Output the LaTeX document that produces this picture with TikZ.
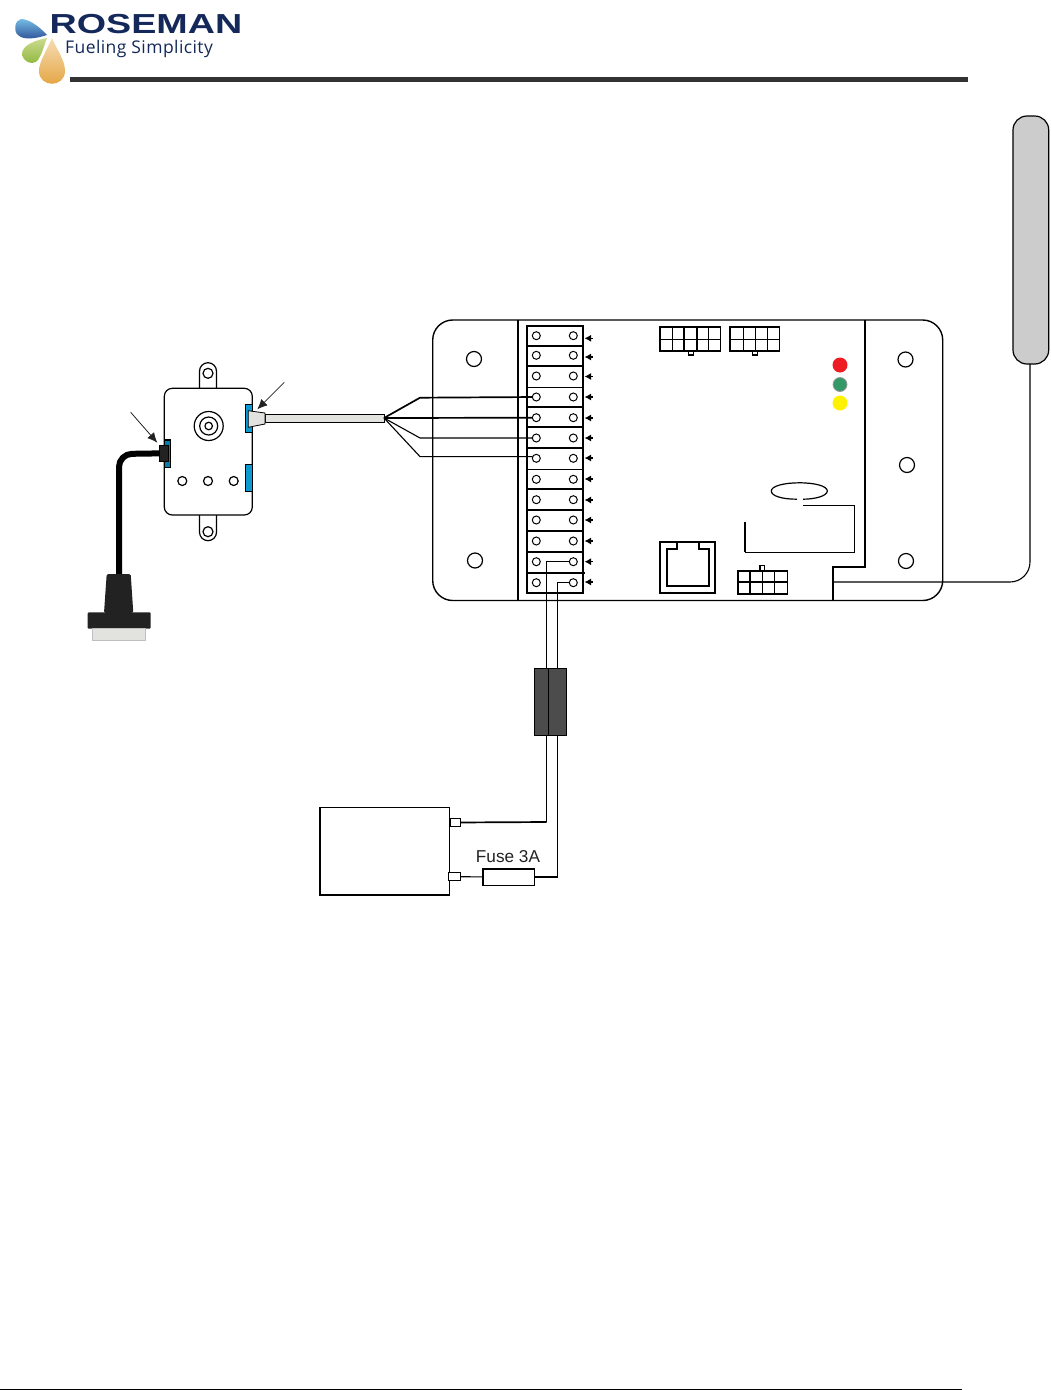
\documentclass[tikz,border=0pt]{standalone}
\usepackage{xcolor}
\usepackage{fontspec}
\usepackage{tikz}
\usetikzlibrary{arrows.meta}
\setmainfont{Liberation Sans}
\newfontfamily\sloganfont[LetterSpace=2.4]{Open Sans}

\definecolor{navy}{HTML}{14285A}
\definecolor{tabblue}{HTML}{0C9AD0}
\definecolor{tabdark}{HTML}{0A7CA6}
\definecolor{cablegray}{HTML}{E2E3DE}
\definecolor{bootblack}{HTML}{222222}
\definecolor{ledred}{HTML}{ED1C24}
\definecolor{ledgreen}{HTML}{339966}
\definecolor{ledyellow}{HTML}{FFF200}
\definecolor{dropbluetop}{HTML}{74BCE4}
\definecolor{dropbluebot}{HTML}{2A4A92}
\definecolor{dropgreentop}{HTML}{CBDB8E}
\definecolor{dropgreenbot}{HTML}{8DB53A}
\definecolor{droporangetop}{HTML}{F6DDB5}
\definecolor{droporangebot}{HTML}{E3A23C}

\tikzset{
    hole/.style={draw, circle, inner sep=0pt, outer sep=0pt, line width=1.2pt, minimum size=#1},
    hole/.default=15pt,
    pin/.style={draw, circle, inner sep=0pt, outer sep=0pt, line width=1pt, minimum size=8pt},
    led/.style={circle, inner sep=0pt, minimum size=15pt, fill=#1},
    callout/.style={-{Latex[length=10pt,width=9pt]}, line width=0.8pt, color=bootblack},
    pointer/.style={-{Latex[length=6.5pt,width=7pt]}, line width=1.2pt},
    lead/.style={draw, rectangle, fill=white, inner sep=0pt, outer sep=0pt, line width=1.2pt}
}

\begin{document}
\begin{tikzpicture}[x=1pt, y=-1pt]
        \useasboundingbox (0,0) rectangle (1050,1390);

        % Logo
        \shade[top color=dropbluetop, bottom color=dropbluebot]
            (47,35) .. controls (38,25) and (28,19) .. (21,19)
            .. controls (15,20) and (13,31) .. (18,35)
            .. controls (24,41) and (38,38) .. (47,35);
        \shade[top color=dropgreentop, bottom color=dropgreenbot]
            (47,38) .. controls (36,40) and (22,45) .. (22,54)
            .. controls (23,62) and (33,66) .. (38,60)
            .. controls (42,54) and (44,46) .. (47,38);
        \shade[top color=droporangetop, bottom color=droporangebot]
            (52,38) .. controls (46,52) and (39,62) .. (39,71)
            .. controls (39,88) and (65,88) .. (65,71)
            .. controls (65,60) and (57,50) .. (52,38);
        \node[anchor=base west, inner sep=0pt, color=navy] (brand) at (49.5,33)
            {\fontsize{27.5}{30}\selectfont\bfseries\scalebox{1.37}[1]{ROSEMAN}};
        \node[anchor=base west, inner sep=0pt, color=navy] (slogan) at (65,53)
            {\fontsize{17.5}{20}\selectfont\sloganfont Fueling Simplicity};
        \fill[color=black!80] (70,77) rectangle (968,82);
        \draw[line width=1pt] (0,1389) -- (962,1389);

        % Antenna
        \draw[line width=1.2pt, fill=black!20, rounded corners=14pt] (1013,116) rectangle (1048.7,364);

        % Board
        \draw[line width=1.4pt, rounded corners=20pt] (432.7,320) rectangle (942.7,600.5);
        \draw[line width=1.8pt] (517.7,320) -- (517.7,600.5);
        \draw[line width=1.8pt] (865,320) -- (865,566.7) -- (832.7,566.7) -- (832.7,600.5);
        \node[hole] (h1) at (474,359) {};
        \node[hole] (h2) at (475,560.5) {};
        \node[hole] (h3) at (905.5,359.5) {};
        \node[hole] (h4) at (907,465) {};
        \node[hole] (h5) at (906,561) {};

        % Terminal block
        \draw[line width=1.8pt] (527,326) rectangle (583,593);
        \foreach \y/\w in {345.7/1.8, 366/1.8, 387/0.8, 407/1.8, 427/1.8, 447.7/1.8, 469/0.8, 489.3/1.8, 510/1.8, 530.7/1.8, 551.7/1.8}
            \draw[line width=\w pt] (527,\y) -- (583,\y);
        \draw[line width=1.8pt] (527,572.7) -- (585,572.7);
        \foreach \n/\y/\a in {1/335.7/338.3, 2/355.3/357, 3/376/376.5, 4/397/397, 5/417.7/418, 6/438/438, 7/458.3/458, 8/479.3/479, 9/499.7/500, 10/520/520, 11/541/541, 12/561.7/561.7, 13/582.7/582}{
            \node[pin] (l\n) at (536.3,\y) {};
            \node[pin] (r\n) at (573.3,\y) {};
            \coordinate (tail\n) at (592.5,\a);
            \coordinate (tip\n) at (584.5,\a);
            \draw[pointer] (tail\n) -- (tip\n);
        }

        % Headers
        \draw[line width=1.6pt] (660,326.7) rectangle (720.3,350.7);
        \draw[line width=1.6pt] (660,339.3) -- (720.3,339.3);
        \foreach \x in {672.3,684,697,708.3}
            \draw[line width=1.6pt] (\x,326.7) -- (\x,350.7);
        \draw[line width=1.2pt] (688.7,350.7) rectangle (693.3,355);
        \draw[line width=1.6pt] (730,326.7) rectangle (779.3,350.7);
        \draw[line width=1.6pt] (730,339.3) -- (779.3,339.3);
        \foreach \x in {743.3,755.3,767.3}
            \draw[line width=1.6pt] (\x,326.7) -- (\x,350.7);
        \draw[line width=1.2pt] (752.7,350.7) rectangle (757.3,355);
        \draw[line width=1.6pt] (737.7,570.7) rectangle (787.3,594);
        \draw[line width=1.6pt] (737.7,581.7) -- (787.3,581.7);
        \foreach \x in {750,762.3,774.3}
            \draw[line width=1.6pt] (\x,570.7) -- (\x,594);
        \draw[line width=1.2pt] (760,565.5) rectangle (764.5,570.7);

        % LEDs
        \node[led=ledred] (red) at (840,365) {};
        \node[led=ledgreen, draw=black!40, line width=0.8pt, minimum size=14pt] (green) at (840,384.5) {};
        \node[led=ledyellow] (yellow) at (840,403) {};

        % Ring and its outline
        \draw[line width=1.2pt] (797,499.2) .. controls (782,499.2) and (771.3,496) .. (771.3,491)
            .. controls (771.3,486) and (784,482.8) .. (799.3,482.8)
            .. controls (815,482.8) and (827.3,486) .. (827.3,491)
            .. controls (827.3,496) and (815,499.2) .. (803,499.2);
        \draw[line width=1pt] (803,505) -- (854.5,505) -- (854.5,552) -- (745,552);
        \draw[line width=1.6pt] (745,552) -- (745,522);

        % Network socket
        \draw[line width=1.7pt] (660,542) rectangle (715,593);
        \draw[line width=1.7pt] (677,542) -- (677,549.3) -- (666.7,549.3) -- (666.7,586)
            -- (709,586) -- (709,549.3) -- (699,549.3) -- (699,542);

        % Sensor box
        \draw[line width=1.2pt, rounded corners=8.5pt] (199.5,389) -- (199.5,362.7) -- (216.5,362.7) -- (216.5,389);
        \draw[line width=1.2pt, rounded corners=8.5pt] (199.5,515) -- (199.5,540.7) -- (216.5,540.7) -- (216.5,515);
        \draw[line width=1.2pt, fill=white, rounded corners=8pt] (164.3,388.3) rectangle (252.3,515);
        \node[hole=10pt] (eartop) at (208,373.3) {};
        \node[hole=10pt] (earbot) at (208,531.7) {};
        \node[hole=29pt] (dial1) at (208.7,426) {};
        \node[hole=18pt] (dial2) at (208.7,426) {};
        \node[hole=7.5pt] (dial3) at (208.7,426) {};
        \node[hole=9pt] (s1) at (182.3,481) {};
        \node[hole=9pt] (s2) at (208,481) {};
        \node[hole=9pt] (s3) at (233.7,481) {};
        \draw[line width=1.2pt, fill=tabblue] (245.5,404.3) rectangle (252.3,432.3);
        \draw[line width=1.2pt, fill=tabblue] (245.5,464.3) rectangle (252.3,491.7);
        \draw[line width=1.2pt, fill=tabdark] (164.3,440) rectangle (170.7,467.3);

        % Black cable and plug
        \coordinate (bend) at (119,454);
        \coordinate (boot) at (119,576);
        \node[fill=bootblack, draw=black, line width=0.8pt, inner sep=0pt, outer sep=0pt, minimum width=9.5pt, minimum height=16.5pt] (plug) at (164,453.3) {};
        \draw[line width=6pt, rounded corners=13pt] (plug) -- (bend) -- (boot);
        \fill[color=bootblack, rounded corners=1.5pt] (106.7,574) -- (130.7,574) -- (133.3,613) -- (104,613) -- cycle;
        \fill[color=bootblack, rounded corners=1pt] (87.7,612.3) rectangle (150.7,628.7);
        \draw[line width=0.7pt, color=black!25, fill=cablegray] (92.7,628.7) rectangle (145,640);

        % Grey cable
        \draw[line width=1pt, fill=cablegray] (265,414.3) rectangle (384,422.3);
        \draw[line width=0.8pt, fill=cablegray] (248.3,410.7) -- (265,413) -- (265,424) -- (248.3,427.3) -- cycle;
        \coordinate (fan) at (384,418);
        \coordinate (b4) at (420,397.7);
        \coordinate (b6) at (420,438);
        \coordinate (b7) at (420,456.6);
        \draw[line width=1.7pt] (fan) -- (b4) -- (l4);
        \draw[line width=1.7pt] (fan) -- (l5);
        \draw[line width=1.1pt] (fan) -- (b6) -- (l6);
        \draw[line width=1.1pt] (fan) -- (b7) -- (l7.155);

        % Callouts
        \coordinate (c1) at (284.3,382.3);
        \coordinate (c2) at (257.3,409.3);
        \coordinate (c3) at (130.7,412.3);
        \coordinate (c4) at (157.3,442.7);
        \draw[callout] (c1) -- (c2);
        \draw[callout] (c3) -- (c4);

        % Antenna lead
        \coordinate (ant) at (1030,364);
        \coordinate (antb) at (1030,582);
        \coordinate (antl) at (832.7,582);
        \draw[line width=1.1pt, rounded corners=20pt] (ant) -- (antb) -- (antl);

        % Battery
        \draw[line width=1.6pt] (320,807.3) rectangle (449.3,894.7);
        \node[lead, minimum width=10.7pt, minimum height=7.6pt] (bat1) at (455.3,822.5) {};
        \node[lead, minimum width=12pt, minimum height=8pt] (bat2) at (454.7,876.7) {};
        \node[lead, line width=1.6pt, minimum width=51.6pt, minimum height=16.6pt] (fuse) at (508.5,877) {};
        \node[color=bootblack, inner sep=0pt] (fuselabel) at (508,857) {\fontsize{17.2}{20}\selectfont Fuse 3A};
        \coordinate (wa) at (546.7,561.7);
        \coordinate (wb) at (546.7,822);
        \coordinate (wc) at (557.7,582.7);
        \coordinate (wd) at (557.7,877);
        \draw[line width=1.1pt] (r12) -- (wa) -- (wb);
        \draw[line width=1.7pt] (wb) -- (bat1);
        \draw[line width=1.1pt] (r13) -- (wc) -- (wd) -- (fuse);
        \draw[line width=1.1pt] (fuse) -- (bat2);

        % Ferrite
        \draw[line width=0.8pt, fill=black!70] (534.3,668.3) rectangle (566.7,735.7);
        \draw[line width=0.8pt] (548.7,668.3) -- (548.7,735.7);
    \end{tikzpicture}
\end{document}
